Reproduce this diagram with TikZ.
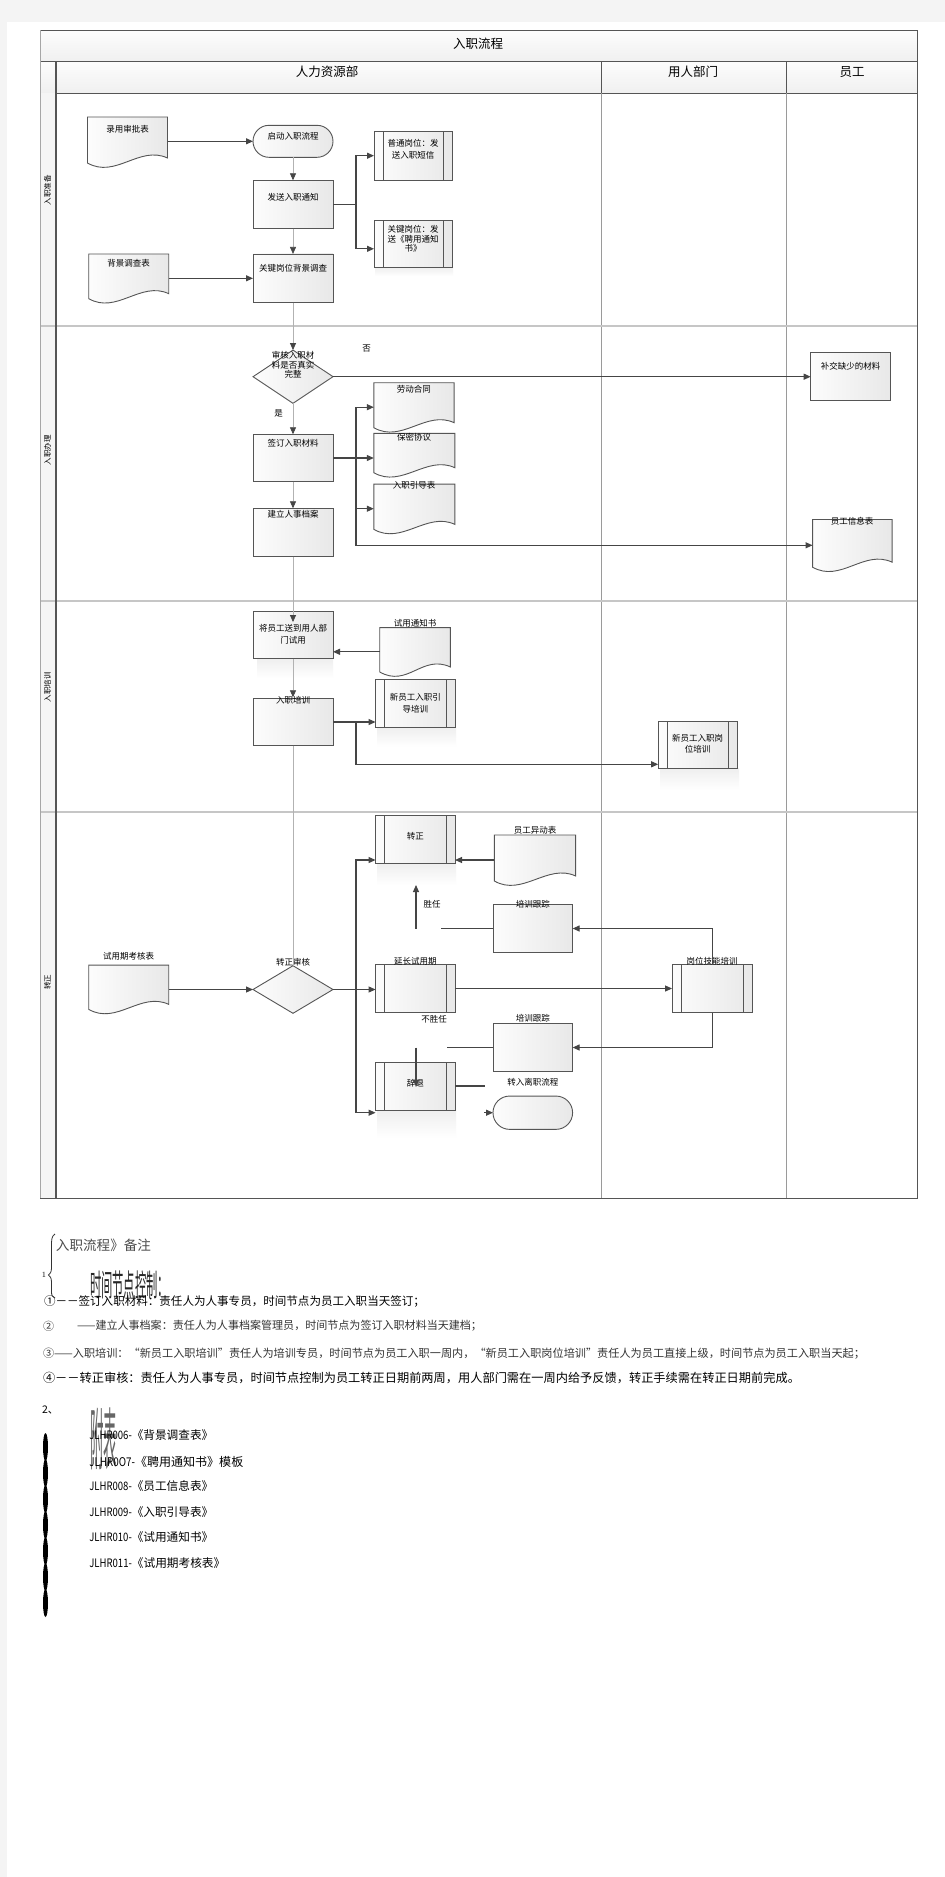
\documentclass[tikz,border=0pt]{standalone}
\usepackage{fontspec}
\newfontfamily\cjk{Noto Sans CJK SC}[AutoFakeBold=2]
\usetikzlibrary{arrows.meta,calc,shapes.geometric}
\definecolor{pagegray}{HTML}{F4F4F4}
\definecolor{edge}{HTML}{555555}
\definecolor{conncol}{HTML}{454545}
\definecolor{lanecol}{HTML}{9A9A9A}
\newcommand\docshape[1]{%
  \draw[edge, line width=0.9pt, left color=gray!2, right color=gray!18]
   (#1.north west) -- (#1.north east) -- ($(#1.south east)+(0,-9)$)
   .. controls ($(#1.south east)+(-28,-22)$) and ($(#1.south west)+(28,12)$) .. ($(#1.south west)+(0,-4)$) -- cycle;}
\begin{document}
\begin{tikzpicture}[x=1pt,y=-1pt,
  every node/.style={inner sep=0pt, outer sep=0pt},
  proc/.style={rectangle, draw=edge, line width=0.9pt, left color=gray!2, right color=gray!18, minimum width=80pt, minimum height=48pt},
  predef/.style={proc, path picture={
     \draw[edge, line width=0.8pt] ([xshift=9pt]path picture bounding box.north west) -- ([xshift=9pt]path picture bounding box.south west);
     \draw[edge, line width=0.8pt] ([xshift=-9pt]path picture bounding box.north east) -- ([xshift=-9pt]path picture bounding box.south east);}},
  term/.style={proc, rounded corners=16pt, minimum height=32pt},
  diam/.style={diamond, draw=edge, line width=0.9pt, left color=gray!2, right color=gray!18, minimum width=80pt, minimum height=53pt},
  docn/.style={rectangle, minimum width=80pt, minimum height=49pt},
  lbl/.style={font=\cjk\fontsize{8.5}{11.7}\selectfont, align=center, text=black},
  lbls/.style={font=\cjk\fontsize{8.5}{9.7}\selectfont, align=center, text=black},
  hdr/.style={font=\cjk\fontsize{12.5}{14}\selectfont, text=black},
  striplbl/.style={font=\cjk\fontsize{7.5}{9}\selectfont, rotate=90, text=black},
  conn/.style={draw=conncol, line width=1.1pt, -{Triangle[length=7pt,width=6pt]}},
  connplain/.style={draw=conncol, line width=1.1pt},
  trunk/.style={draw=gray!60, line width=0.7pt, -{Triangle[length=7pt,width=6pt,color=conncol]}},
  trunkplain/.style={draw=gray!60, line width=0.7pt},
  refl/.style={top color=gray!13, bottom color=white, draw=none},
  hdrfill/.style={draw=edge, line width=0.8pt, top color=gray!2, bottom color=gray!12},
  notefont/.style={font=\cjk, anchor=west, text=black}
]
\useasboundingbox (0,0) rectangle (945,1877);
% page
\fill[pagegray] (0,0) rectangle (945,1877);
\fill[white] (7,22) rectangle (945,1877);
% title and headers
\path[hdrfill] (40,30.3) rectangle (917,61.7);
\path[hdrfill] (40,61.7) rectangle (56,93.3);
\path[hdrfill] (56,61.7) rectangle (601.6,93.3);
\path[hdrfill] (601.6,61.7) rectangle (786.6,93.3);
\path[hdrfill] (786.6,61.7) rectangle (917,93.3);
\node[hdr] (title) at (478,44) {入职流程};
\node[hdr] (h1) at (327,72) {人力资源部};
\node[hdr] (h2) at (693,72) {用人部门};
\node[hdr] (h3) at (852,72) {员工};
% left strip
\fill[gray!8] (40,93.3) rectangle (56,1198);
% lanes
\draw[lanecol, line width=0.9pt] (601.6,93.3) -- (601.6,1198);
\draw[lanecol, line width=0.9pt] (786.6,93.3) -- (786.6,1198);
% row separators
\foreach \yy in {326,601,811.7} \draw[gray!45, line width=2pt] (40,\yy) -- (917,\yy);
% outer frame
\draw[edge, line width=1pt] (40,30.3) rectangle (917,1198);
\draw[edge, line width=1.4pt] (56,61.7) -- (56,1198);
\draw[gray!70, line width=1pt] (40,30.3) -- (40,1198);
\node[striplbl] (r1) at (47.5,190) {入职准备};
\node[striplbl] (r2) at (47.5,450) {入职办理};
\node[striplbl] (r3) at (47.5,687) {入职培训};
\node[striplbl] (r4) at (47.5,982) {转正};

% reflections
\path[refl] (257,658.7) rectangle (333,678.3);
\path[refl] (377,727.3) rectangle (456,746.7);
\path[refl] (660,768.3) rectangle (739,790);
\path[refl] (377,863.3) rectangle (456,885);
\path[refl] (377,1110) rectangle (456,1138);
\path[refl] (375,267.3) rectangle (453,276);

% ---------- row 1
\node[docn, minimum width=80pt, minimum height=50pt] (ls) at (127.5,142) {}; \docshape{ls}
\node[term] (qd) at (293,141.3) {};
\node[predef, minimum width=78pt, minimum height=48.7pt] (pt) at (413,155.7) {};
\node[proc, minimum height=48.4pt] (fs) at (293,204.5) {};
\node[predef, minimum width=78pt, minimum height=47pt] (gj) at (413,243.8) {};
\node[docn, minimum width=80pt, minimum height=48.7pt] (bj) at (128.7,278.3) {}; \docshape{bj}
\node[proc, minimum height=48.7pt] (gd) at (293,278.3) {};

% ---------- row 2
\node[diam, minimum height=53.3pt] (sh) at (293,376.7) {};
\node[proc, minimum width=79.6pt, minimum height=47.7pt] (bc) at (850.5,376.2) {};
\node[proc, minimum height=47.4pt] (qm) at (293,458) {};
\node[proc, minimum height=48.4pt] (jl) at (293,532.5) {};
\node[docn, minimum width=80.3pt, minimum height=49pt] (ld) at (414,407.2) {}; \docshape{ld}
\node[docn, minimum width=81pt, minimum height=43.4pt] (bm) at (414.3,455) {}; \docshape{bm}
\node[docn, minimum width=81pt, minimum height=49.3pt] (yd) at (414.3,508.7) {}; \docshape{yd}
\node[docn, minimum width=79.5pt, minimum height=51.7pt] (xx) at (852.3,545.3) {}; \docshape{xx}

% ---------- row 3
\node[proc, minimum height=47.7pt] (sd) at (293,634.9) {};
\node[docn, minimum width=70.6pt, minimum height=48.3pt] (tz) at (415,651.8) {}; \docshape{tz}
\node[proc, minimum height=47.4pt] (px) at (293,722) {};
\node[predef, minimum width=79.5pt, minimum height=48pt] (yp) at (415.3,703.3) {};
\node[predef, minimum width=79pt, minimum height=47.3pt] (gp) at (697.7,744.7) {};

% ---------- row 4
\node[predef, minimum width=79.5pt, minimum height=47.6pt] (zz) at (415.3,839.5) {};
\node[docn, minimum width=81.3pt, minimum height=50pt] (yy) at (535,860) {}; \docshape{yy}
\node[proc, minimum width=79.6pt, minimum height=48.4pt] (gz1) at (532.8,928.5) {};
\node[predef, minimum width=80.3pt, minimum height=48.4pt] (jn) at (712.2,988.5) {};
\node[proc, minimum width=79.6pt, minimum height=48.4pt] (gz2) at (532.8,1047.5) {};
\node[docn, minimum width=80pt, minimum height=48.3pt] (kh) at (128.7,989.2) {}; \docshape{kh}
\node[diam, minimum height=47.6pt] (zs) at (293,989.5) {};
\node[predef, minimum width=79.5pt, minimum height=48.4pt] (yc) at (415.3,988.5) {};
\node[predef, minimum width=79.5pt, minimum height=47.7pt] (ct) at (415.3,1086.2) {};
\node[term, minimum width=79.6pt, minimum height=33.3pt, rounded corners=16.6pt] (lz) at (532.8,1112.7) {};

% ---------- labels
\node[lbl] (t-ls) at (127.5,129) {录用审批表};
\node[lbl] (t-qd) at (293,136) {启动入职流程};
\node[lbl] (t-pt) at (413,149.2) {普通岗位：发\\送入职短信};
\node[lbl] (t-fs) at (293,197) {发送入职通知};
\node[lbls] (t-gj) at (413,239) {关键岗位：发\\送《聘用通知\\书》};
\node[lbl] (t-bj) at (128.7,263) {背景调查表};
\node[lbl] (t-gd) at (293,268.7) {关键岗位背景调查};
\node[lbls] (t-sh) at (293,365) {审核入职材\\料是否真实\\完整};
\node[lbl] (t-no) at (366.5,349) {否};
\node[lbl] (t-bc) at (850.5,366) {补交缺少的材料};
\node[lbl] (t-yes) at (278.5,413.3) {是};
\node[lbl] (t-qm) at (293,443.3) {签订入职材料};
\node[lbl] (t-jl) at (293,514) {建立人事档案};
\node[lbl] (t-ld) at (413.8,389) {劳动合同};
\node[lbl] (t-bm) at (414,437.3) {保密协议};
\node[lbl] (t-yd) at (414,485.7) {入职引导表};
\node[lbl] (t-xx) at (852,521) {员工信息表};
\node[lbl] (t-sd) at (293,634.2) {将员工送到用人部\\门试用};
\node[lbl] (t-tz) at (415,623.3) {试用通知书};
\node[lbl] (t-px) at (293,700) {入职培训};
\node[lbl] (t-yp) at (415.3,703.2) {新员工入职引\\导培训};
\node[lbl] (t-gp) at (697.7,743.7) {新员工入职岗\\位培训};
\node[lbl] (t-zz) at (415.3,836.7) {转正};
\node[lbl] (t-yy) at (535,830.7) {员工异动表};
\node[lbl] (t-gz1) at (532.8,904.3) {培训跟踪};
\node[lbl] (t-sr) at (432,904) {胜任};
\node[lbl] (t-jn) at (712.2,961.7) {岗位技能培训};
\node[lbl] (t-gz2) at (532.8,1018.3) {培训跟踪};
\node[lbl] (t-kh) at (128.7,956.7) {试用期考核表};
\node[lbl] (t-zs) at (293,962.3) {转正审核};
\node[lbl] (t-yc) at (415.3,961.7) {延长试用期};
\node[lbl] (t-bsr) at (434,1019) {不胜任};
\node[lbl] (t-ct) at (415.3,1083.3) {辞退};
\node[lbl] (t-lz) at (532.8,1082.7) {转入离职流程};

% ---------- connectors
\coordinate (b1) at (356,204.5);
\coordinate (b2) at (356,458);
\coordinate (b3) at (356,721.7);
\coordinate (b3d) at (356,764.3);
\coordinate (b4) at (356,988.7);
\coordinate (b4u) at (356,860);
\coordinate (b4d) at (356,1112.7);
\coordinate (s1) at (441,928.5);
\coordinate (s2) at (416,928.5);
\coordinate (s3) at (416,885);
\coordinate (u1) at (446.7,1047.5);
\coordinate (u2) at (416,1047.5);
\coordinate (u3) at (416,1086.7);
\coordinate (w1) at (485,1086);
\coordinate (w2) at (484,1112.7);

\draw[conn] (ls.east |- qd) -- (qd.west);
\draw[trunk] (qd.south) -- (fs.north);
\draw[trunk] (fs.south) -- (gd.north);
\draw[conn] (bj.east) -- (gd.west);
\draw[conn] (fs.east) -- (b1) |- (pt.west);
\draw[conn] (b1) |- ($(gj.west)+(0,5)$);
\draw[trunk] (gd.south) -- (sh.north);
\draw[conn] (sh.east) -- (bc.west |- sh.east);
\draw[trunk] (sh.south) -- (qm.north);
\draw[trunk] (qm.south) -- (jl.north);
\draw[conn] (qm.east) -- (b2) |- (ld.west);
\draw[conn] (b2) -- (bm.west |- b2);
\draw[conn] (b2) |- (yd.west);
\draw[conn] (b2) |- (xx.west);
\draw[trunk] (jl.south) -- ($(sd.north)+(0,11)$);
\draw[conn] (tz.west) -- (sd.east |- tz.west);
\draw[trunk] (sd.south) -- ($(px.north)+(0,-1)$);
\draw[conn] (px.east) -- (yp.west |- px.east);
\draw[conn] (b3) -- (b3d) -- (gp.west |- b3d);
\draw[trunkplain] (px.south) -- (zs.north);
\draw[conn] (kh.east |- zs) -- (zs.west);
\draw[conn] (zs.east) -- (yc.west |- zs.east);
\draw[conn] (b4) -- (b4u) -- (zz.west |- b4u);
\draw[conn] (b4) -- (b4d) -- (ct.west |- b4d);
\draw[conn] (yy.west) -- (zz.east |- yy.west);
\draw[connplain] (gz1.west) -- (s1);
\draw[conn] (s2) -- (s3);
\draw[conn] (yc.east) -- (jn.west |- yc.east);
\draw[conn] (jn.north) |- (gz1.east);
\draw[conn] (jn.south) |- (gz2.east);
\draw[connplain] (gz2.west) -- (u1);
\draw[conn] (u2) -- (u3);
\draw[connplain] (ct.east |- w1) -- (w1);
\draw[conn] (w2) -- (lz.west);

% ---------- notes
\draw[black!80, line width=0.8pt] (55,1234) .. controls (51.5,1236) and (51.5,1240) .. (51.5,1246) -- (51.5,1268) .. controls (51.5,1272) and (50,1274) .. (48.5,1275) .. controls (50,1276) and (51.5,1278) .. (51.5,1282) -- (51.5,1291) .. controls (51.5,1295) and (52,1297) .. (55,1298);
\node[notefont, text=black!70] (n0) at (56,1245) {\resizebox{95pt}{!}{\cjk 入职流程》备注}};
\node[anchor=center, font=\fontsize{8}{9}\selectfont] (n1) at (44,1275) {1};
\node[anchor=base west, text=black!85, font=\cjk\fontsize{11.3}{12}\selectfont] (n-sj) at (90,1296) {\scalebox{1}[2.7]{时间节点控制：}};
\node[notefont] (l1) at (44,1301.7) {\resizebox{381pt}{!}{①－－签订入职材料：责任人为人事专员，时间节点为员工入职当天签订；}};
\node[notefont, text=black!80] (l2a) at (43,1326) {\fontsize{11}{12}\selectfont ②};
\node[notefont, text=black!80] (l2b) at (77,1326) {\resizebox{405pt}{!}{——建立人事档案：责任人为人事档案管理员，时间节点为签订入职材料当天建档；}};
\node[notefont, text=black!80] (l3) at (43,1353.3) {\resizebox{822pt}{!}{③——入职培训：“新员工入职培训”责任人为培训专员，时间节点为员工入职一周内，“新员工入职岗位培训”责任人为员工直接上级，时间节点为员工入职当天起；}};
\node[notefont] (l4) at (43,1378.3) {\resizebox{757pt}{!}{④－－转正审核：责任人为人事专员，时间节点控制为员工转正日期前两周，用人部门需在一周内给予反馈，转正手续需在转正日期前完成。}};
\node[notefont, font=\cjk\fontsize{10.5}{12}\selectfont] (n2) at (42,1410) {2、};
\node[anchor=south west, text=black!60, font=\cjk\fontsize{13.5}{14}\selectfont] (n-fb) at (90,1470) {\scalebox{1}[5]{附表}};
% black wavy mark
\fill[black] (45,1440) rectangle (46,1615);
\foreach \yy in {1447,1473,1499,1525,1551,1577,1603} \fill[black] (45.5,\yy) ellipse (2.5 and 14);
% list
\node[notefont] (f1) at (89.3,1435) {\resizebox{124pt}{!}{\scalebox{0.82}[1]{JLHR006-}《背景调查表》}};
\node[notefont] (f2) at (89.3,1461.7) {\resizebox{154pt}{!}{\scalebox{0.82}[1]{JLHR0O7-}《聘用通知书》模板}};
\node[notefont] (f3) at (89.3,1486) {\resizebox{124pt}{!}{\scalebox{0.82}[1]{JLHR008-}《员工信息表》}};
\node[notefont] (f4) at (89.3,1512) {\resizebox{124pt}{!}{\scalebox{0.82}[1]{JLHR009-}《入职引导表》}};
\node[notefont] (f5) at (89.3,1536.7) {\resizebox{124pt}{!}{\scalebox{0.82}[1]{JLHR010-}《试用通知书》}};
\node[notefont] (f6) at (89.3,1563.3) {\resizebox{136pt}{!}{\scalebox{0.82}[1]{JLHR011-}《试用期考核表》}};
\end{tikzpicture}
\end{document}
